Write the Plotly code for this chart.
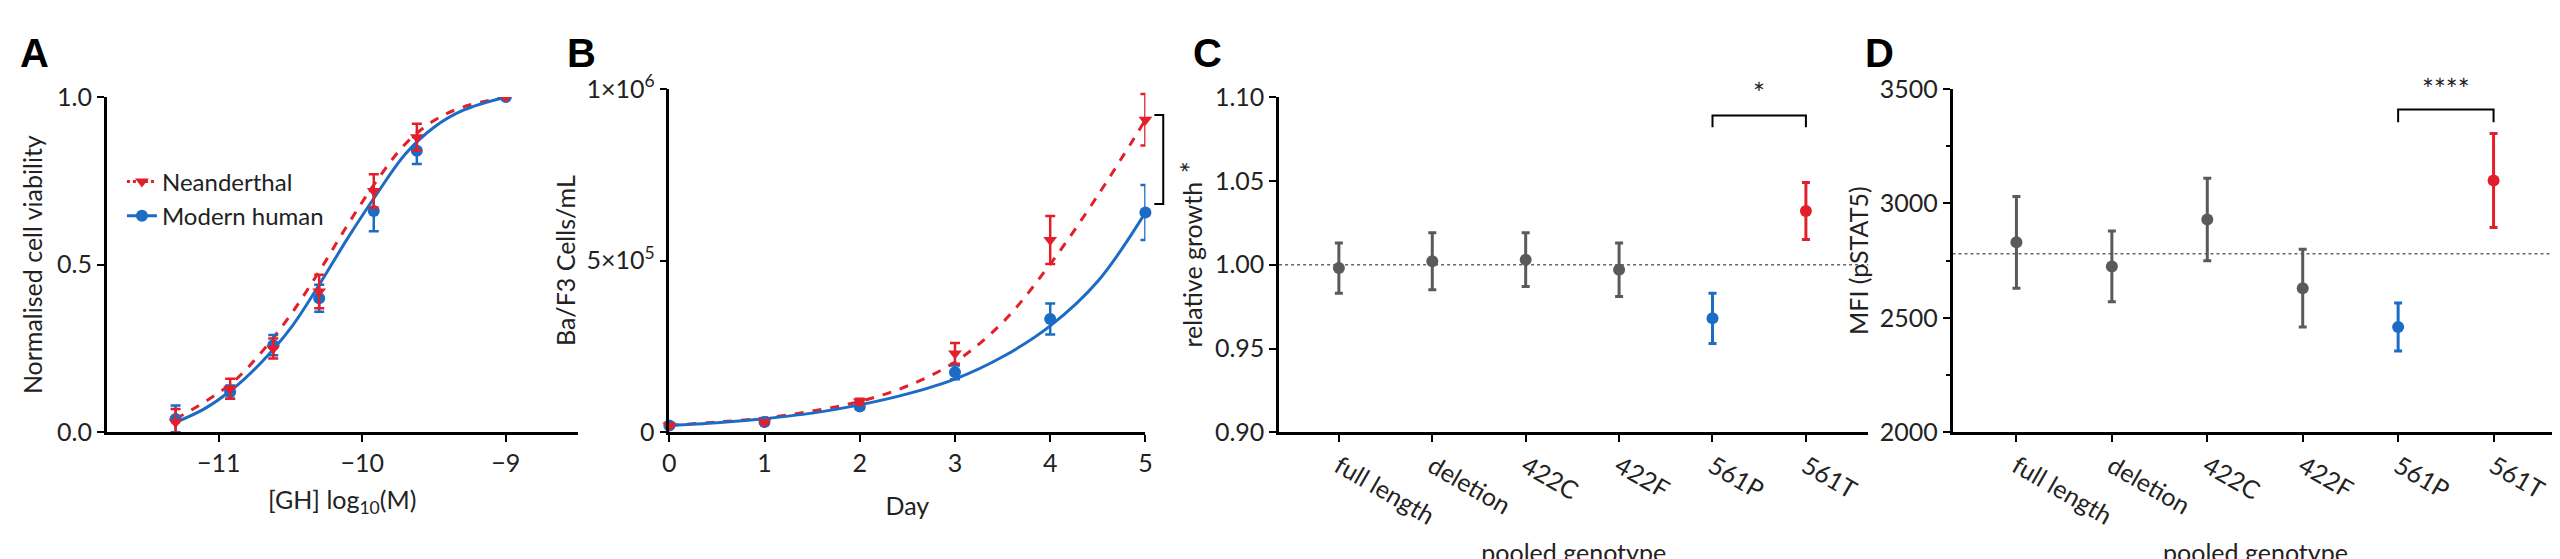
import plotly.graph_objects as go

RED = "#e3202a"
BLUE = "#1c6cc6"
GREY = "#5a5a5a"
FONT = "Lato"

# Panel A: dose response
a_x = [-11.3, -10.92, -10.62, -10.3, -9.92, -9.62, -9.0]
a_nea = [0.03, 0.13, 0.25, 0.42, 0.72, 0.88, 1.0]
a_nea_err = [0.04, 0.03, 0.03, 0.05, 0.05, 0.04, 0.0]
a_mod = [0.04, 0.12, 0.26, 0.40, 0.66, 0.84, 1.0]
a_mod_err = [0.04, 0.02, 0.03, 0.04, 0.06, 0.04, 0.0]
a_fit_x = [-11.3, -11.1, -10.9, -10.7, -10.5, -10.3, -10.1, -9.9, -9.7, -9.5, -9.3, -9.0]
a_fit_nea = [0.04, 0.09, 0.15, 0.24, 0.35, 0.48, 0.62, 0.75, 0.86, 0.93, 0.97, 1.0]
a_fit_mod = [0.03, 0.07, 0.13, 0.21, 0.31, 0.44, 0.58, 0.71, 0.83, 0.91, 0.96, 1.0]

# Panel B: growth curve
b_day = [0, 1, 2, 3, 4, 5]
b_nea = [20000, 30000, 90000, 230000, 560000, 910000]
b_nea_err = [5000, 5000, 8000, 30000, 70000, 75000]
b_mod = [20000, 30000, 75000, 175000, 330000, 640000]
b_mod_err = [5000, 5000, 8000, 20000, 45000, 80000]
b_fit_x = [0, 0.5, 1, 1.5, 2, 2.5, 3, 3.5, 4, 4.5, 5]
b_fit_nea = [20000, 30000, 42000, 62000, 90000, 135000, 205000, 320000, 490000, 690000, 910000]
b_fit_mod = [20000, 28000, 40000, 56000, 80000, 112000, 155000, 220000, 310000, 440000, 640000]

# Panels C and D: pooled genotypes
genotypes = ["full length", "deletion", "422C", "422F", "561P", "561T"]
c_vals = [0.998, 1.002, 1.003, 0.997, 0.968, 1.032]
c_err = [0.015, 0.017, 0.016, 0.016, 0.015, 0.017]
d_vals = [2830, 2725, 2930, 2630, 2460, 3100]
d_err = [200, 155, 180, 170, 105, 205]
point_colors = [GREY, GREY, GREY, GREY, BLUE, RED]

fig = go.Figure()

# ---- A ----
fig.add_trace(go.Scatter(x=a_fit_x, y=a_fit_nea, mode="lines", line=dict(color=RED, width=3, dash="dash", shape="spline"),
                         showlegend=False, xaxis="x", yaxis="y"))
fig.add_trace(go.Scatter(x=a_fit_x, y=a_fit_mod, mode="lines", line=dict(color=BLUE, width=3, shape="spline"),
                         showlegend=False, xaxis="x", yaxis="y"))
fig.add_trace(go.Scatter(x=a_x, y=a_mod, mode="markers", marker=dict(color=BLUE, size=12),
                         error_y=dict(array=a_mod_err, color=BLUE, thickness=2.5, width=5),
                         showlegend=False, xaxis="x", yaxis="y"))
fig.add_trace(go.Scatter(x=a_x, y=a_nea, mode="markers", marker=dict(color=RED, size=12, symbol="triangle-down"),
                         error_y=dict(array=a_nea_err, color=RED, thickness=2.5, width=5),
                         showlegend=False, xaxis="x", yaxis="y"))
fig.add_trace(go.Scatter(x=[None], y=[None], mode="lines+markers", name="Neanderthal",
                         line=dict(color=RED, width=3, dash="dot"), marker=dict(color=RED, size=12, symbol="triangle-down")))
fig.add_trace(go.Scatter(x=[None], y=[None], mode="lines+markers", name="Modern human",
                         line=dict(color=BLUE, width=3), marker=dict(color=BLUE, size=12)))

# ---- B ----
fig.add_trace(go.Scatter(x=b_fit_x, y=b_fit_nea, mode="lines", line=dict(color=RED, width=3, dash="dash", shape="spline"),
                         showlegend=False, xaxis="x2", yaxis="y2"))
fig.add_trace(go.Scatter(x=b_fit_x, y=b_fit_mod, mode="lines", line=dict(color=BLUE, width=3, shape="spline"),
                         showlegend=False, xaxis="x2", yaxis="y2"))
fig.add_trace(go.Scatter(x=b_day, y=b_mod, mode="markers", marker=dict(color=BLUE, size=12),
                         error_y=dict(array=b_mod_err, color=BLUE, thickness=2.5, width=5),
                         cliponaxis=False, showlegend=False, xaxis="x2", yaxis="y2"))
fig.add_trace(go.Scatter(x=b_day, y=b_nea, mode="markers", marker=dict(color=RED, size=12, symbol="triangle-down"),
                         error_y=dict(array=b_nea_err, color=RED, thickness=2.5, width=5),
                         cliponaxis=False, showlegend=False, xaxis="x2", yaxis="y2"))

# ---- C / D ----
for vals, err, xa, ya in [(c_vals, c_err, "x3", "y3"), (d_vals, d_err, "x4", "y4")]:
    for g, v, e, col in zip(genotypes, vals, err, point_colors):
        fig.add_trace(go.Scatter(x=[g], y=[v], mode="markers", marker=dict(color=col, size=12),
                                 error_y=dict(array=[e], color=col, thickness=3, width=4),
                                 showlegend=False, xaxis=xa, yaxis=ya))

axis_common = dict(showline=True, linecolor="black", linewidth=2.5, ticks="outside", ticklen=7,
                   tickwidth=2, tickcolor="black", showgrid=False, zeroline=False,
                   tickfont=dict(size=25, color="#222"), title_font=dict(size=25, color="#222"))

yb, ytA, ytB = 0.143, 0.852, 0.869
fig.update_layout(
    width=2560, height=559, paper_bgcolor="white", plot_bgcolor="white",
    margin=dict(l=0, r=0, t=0, b=0), font=dict(family=FONT, color="#222"),
    xaxis=dict(domain=[0.036, 0.221], range=[-11.78, -8.5], tickvals=[-11, -10, -9],
               ticktext=["−11", "−10", "−9"], title=dict(text="[GH] log<sub>10</sub>(M)", standoff=16),
               anchor="y", **axis_common),
    yaxis=dict(domain=[yb, ytA], range=[0, 1.0], tickvals=[0, 0.5, 1.0], tickformat=".1f",
               title=dict(text="Normalised cell viability", standoff=8), anchor="x", **axis_common),
    xaxis2=dict(domain=[0.257, 0.444], range=[0, 5], dtick=1, title=dict(text="Day", standoff=22),
                anchor="y2", **axis_common),
    yaxis2=dict(domain=[yb, ytB], range=[0, 1000000], tickvals=[0, 500000, 1000000],
                ticktext=["0", "5×10<sup>5</sup>", "1×10<sup>6</sup>"],
                title=dict(text="Ba/F3 Cells/mL", standoff=4), anchor="x2", **axis_common),
    xaxis3=dict(domain=[0.4965, 0.728], range=[-0.64, 5.67], categoryorder="array", categoryarray=genotypes,
                title=dict(text="pooled genotype", standoff=20), anchor="y3", **axis_common),
    yaxis3=dict(domain=[yb, ytA], range=[0.9, 1.1], dtick=0.05, tickformat=".2f",
                title=dict(text="relative growth", standoff=6), anchor="x3", **axis_common),
    xaxis4=dict(domain=[0.761, 0.999], range=[-0.67, 5.68], categoryorder="array", categoryarray=genotypes,
                title=dict(text="pooled genotype", standoff=20), anchor="y4", **axis_common),
    yaxis4=dict(domain=[yb, ytB], range=[2000, 3500], dtick=500,
                minor=dict(dtick=250, ticks="outside", ticklen=4, tickcolor="black"),
                title=dict(text="MFI (pSTAT5)", standoff=4), anchor="x4", **axis_common),
    legend=dict(x=0.042, y=0.72, xanchor="left", yanchor="top", font=dict(size=24),
                bgcolor="rgba(0,0,0,0)", itemwidth=30, tracegroupgap=4),
    shapes=[
        dict(type="line", xref="x3", yref="y3", x0=-0.64, x1=5.67, y0=1.0, y1=1.0,
             line=dict(color="#666", width=1.5, dash="dot"), layer="below"),
        dict(type="line", xref="x4", yref="y4", x0=-0.67, x1=5.68, y0=2780, y1=2780,
             line=dict(color="#666", width=1.5, dash="dot"), layer="below"),
        # significance brackets
        dict(type="path", xref="paper", yref="paper", path="M 0.4475,0.814 L 0.451,0.814 L 0.451,0.626 L 0.4475,0.626",
             line=dict(color="black", width=2)),
        dict(type="path", xref="x3", yref="y3", path="M 4,1.082 L 4,1.089 L 5,1.089 L 5,1.082",
             line=dict(color="black", width=2)),
        dict(type="path", xref="x4", yref="y4", path="M 4,3355 L 4,3410 L 5,3410 L 5,3355",
             line=dict(color="black", width=2)),
    ],
    annotations=[
        dict(text="<b>A</b>", x=0.001, y=0.995, xref="paper", yref="paper", xanchor="left", yanchor="top",
             showarrow=False, font=dict(size=40, family="Liberation Sans", color="black")),
        dict(text="<b>B</b>", x=0.216, y=0.995, xref="paper", yref="paper", xanchor="left", yanchor="top",
             showarrow=False, font=dict(size=40, family="Liberation Sans", color="black")),
        dict(text="<b>C</b>", x=0.462, y=0.995, xref="paper", yref="paper", xanchor="left", yanchor="top",
             showarrow=False, font=dict(size=40, family="Liberation Sans", color="black")),
        dict(text="<b>D</b>", x=0.726, y=0.995, xref="paper", yref="paper", xanchor="left", yanchor="top",
             showarrow=False, font=dict(size=40, family="Liberation Sans", color="black")),
        dict(text="*", x=0.4565, y=0.72, xref="paper", yref="paper", showarrow=False, textangle=90,
             font=dict(size=28)),
        dict(text="*", x=4.5, y=1.091, xref="x3", yref="y3", yanchor="bottom", showarrow=False, font=dict(size=28)),
        dict(text="****", x=4.5, y=3415, xref="x4", yref="y4", yanchor="bottom", showarrow=False, font=dict(size=28)),
    ],
)

fig.write_html("out.html")
